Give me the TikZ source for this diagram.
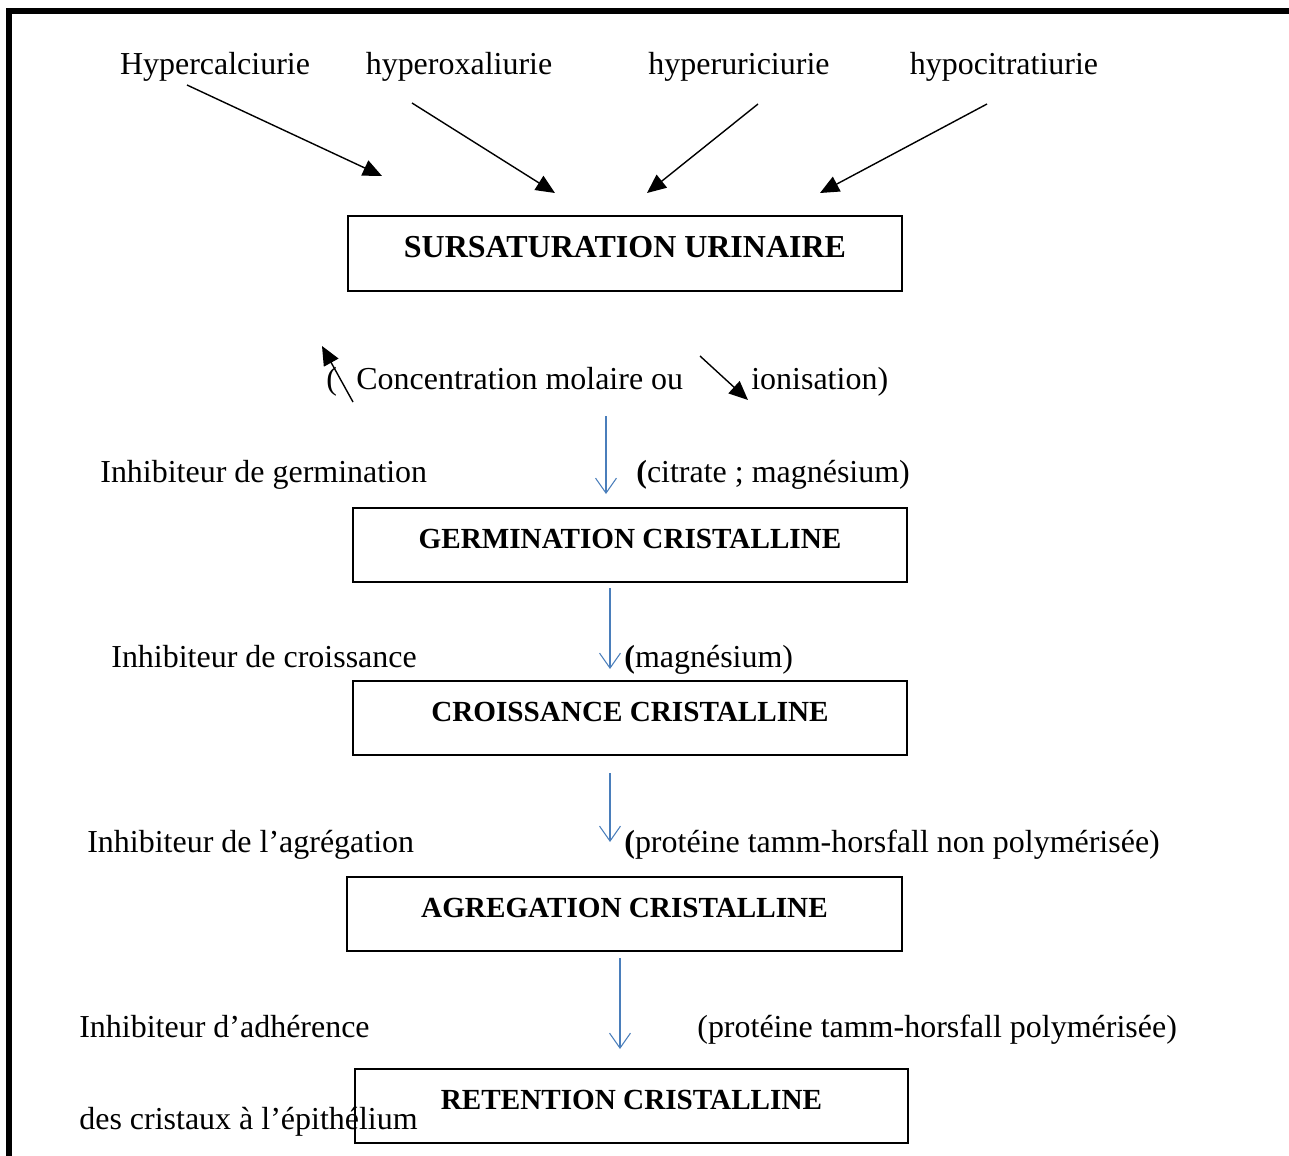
\documentclass[tikz,border=0pt]{standalone}
\usepackage{fontspec}
\setmainfont{Liberation Serif}
\usepackage{tikz}
\usetikzlibrary{positioning,arrows.meta,calc}
\definecolor{cOut}{HTML}{000000}
\definecolor{cFlow}{HTML}{4A7EBB}
\tikzset{
  fig/box/.style    ={draw=cOut, line width=1.1pt, rectangle, inner sep=0pt,
                      minimum width=11.08cm, minimum height=1.47cm,
                      font=\fontsize{16.6}{20}\selectfont\bfseries,
                      text height=0.40cm, text depth=0.26cm},
  fig/bigbox/.style ={fig/box, minimum height=1.5cm,
                      font=\fontsize{18.2}{22}\selectfont\bfseries,
                      text height=0.42cm, text depth=0.28cm},
  fig/txt/.style    ={inner sep=0pt, anchor=base west,
                      font=\fontsize{18.2}{22}\selectfont},
  fig/cause/.style  ={fig/txt, anchor=base},
  fig/arr/.style    ={-{Triangle[length=0.38cm, width=0.33cm]}, line width=0.8pt, cOut},
  fig/flow/.style   ={-{Straight Barb[length=0.3cm, width=0.42cm]}, line width=0.6pt, cFlow},
  fig/frame/.style  ={line width=3.4pt, cOut, line join=miter}
}
\begin{document}
\begin{tikzpicture}[x=0.02cm, y=-0.02cm]
    \useasboundingbox (0,0) rectangle (1289,1156);
    % page frame (left and top only)
    \draw[fig/frame] (9,1170) -- (9,11) -- (1300,11);
    % causes
    \node[fig/cause] (hcal) at (215,74) {Hypercalciurie};
    \node[fig/cause] (hoxa) at (459,74) {hyperoxaliurie};
    \node[fig/cause] (huri) at (739,74) {hyperuriciurie};
    \node[fig/cause] (hcit) at (1004,74) {hypocitratiurie};
    % main steps
    \node[fig/bigbox, minimum width=11.08cm] (sursat) at (625,253.5) {SURSATURATION URINAIRE};
    \node[fig/box] (germ)  at (630,545)    {GERMINATION CRISTALLINE};
    \node[fig/box] (crois) at (630,718)    {CROISSANCE CRISTALLINE};
    \node[fig/box, minimum width=11.1cm] (agreg) at (624.5,914) {AGREGATION CRISTALLINE};
    \node[fig/box, minimum width=11.06cm] (reten) at (631.5,1106) {RETENTION CRISTALLINE};
    % arrow ends
    \coordinate (hcalA) at (187,85);   \coordinate (hcalB) at (382,176);
    \coordinate (hoxaA) at (412,103);  \coordinate (hoxaB) at (555,193);
    \coordinate (huriA) at (758,104);  \coordinate (huriB) at (647,193);
    \coordinate (hcitA) at (987,104);  \coordinate (hcitB) at (820,193);
    \foreach \c in {hcal,hoxa,huri,hcit} {
      \draw[fig/arr] (\c A) -- (\c B);
    }
    % concentration / ionisation
    \node[fig/txt] (paro)  at (326,389) {(};
    \node[fig/txt] (conc)  at (356,389) {Concentration molaire ou};
    \node[fig/txt] (ionis) at (751,389) {ionisation)};
    \coordinate (upA) at (353,402);  \coordinate (upB) at (322,346);
    \coordinate (dnA) at (700,356);  \coordinate (dnB) at (748,400);
    \draw[fig/arr] (upA) -- (upB);
    \draw[fig/arr] (dnA) -- (dnB);
    % inhibitors
    \node[fig/txt] (inhgerm)  at (100,482)  {Inhibiteur de germination};
    \node[fig/txt] (molgerm)  at (636,482)  {{\bfseries (}citrate ; magnésium)};
    \node[fig/txt] (inhcrois) at (111,667)  {Inhibiteur de croissance};
    \node[fig/txt] (molcrois) at (624,667)  {{\bfseries (}magnésium)};
    \node[fig/txt] (inhagreg) at (87,852)   {Inhibiteur de l’agrégation};
    \node[fig/txt] (molagreg) at (624,852)  {{\bfseries (}protéine tamm-horsfall non polymérisée)};
    \node[fig/txt] (inhadh)   at (79,1037)  {Inhibiteur d’adhérence};
    \node[fig/txt] (moladh)   at (697,1037) {(protéine tamm-horsfall polymérisée)};
    \node[fig/txt] (inhadhb)  at (79,1129)  {des cristaux à l’épithélium};
    % blue flow arrows
    \coordinate (f1A) at (606,416);  \coordinate (f1B) at (606,494);
    \coordinate (f2A) at (610,588);  \coordinate (f2B) at (610,669);
    \coordinate (f3A) at (610,773);  \coordinate (f3B) at (610,842);
    \coordinate (f4A) at (620,958);  \coordinate (f4B) at (620,1049);
    \foreach \k in {1,...,4} {
      \draw[fig/flow] (f\k A) -- (f\k B);
    }
\end{tikzpicture}
\end{document}
